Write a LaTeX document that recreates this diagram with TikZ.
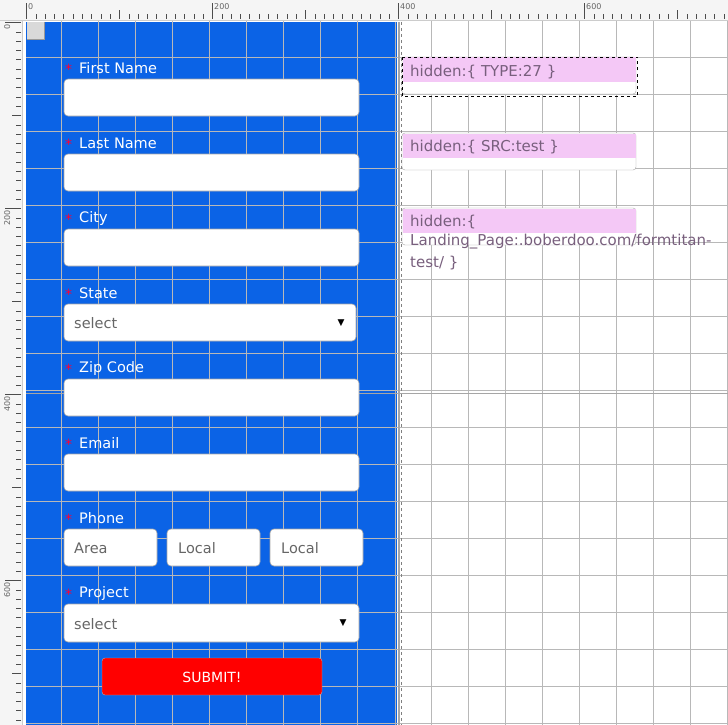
\documentclass[tikz,border=0pt]{standalone}
\usepackage{fontspec}
\setmainfont{DejaVu Sans}
\definecolor{canvasblue}{RGB}{11,99,230}
\definecolor{hidpink}{RGB}{244,200,246}
\definecolor{hidtext}{RGB}{120,95,125}
\begin{document}
\begin{tikzpicture}[x=1pt,y=-1pt,
  grid/.style={draw=black!28,line width=0.8pt},
  inp/.style={draw=black!35,fill=white,rounded corners=4pt,line width=0.6pt},
  lbl/.style={anchor=west,text=white,font=\fontsize{14.5}{16}\selectfont,inner sep=0},
  star/.style={anchor=west,text=red!80!magenta,font=\fontsize{14}{16}\selectfont,inner sep=0},
  ph/.style={anchor=west,text=black!60,font=\fontsize{14.5}{16}\selectfont,inner sep=0},
  hid/.style={anchor=west,text=hidtext,font=\fontsize{15}{17}\selectfont,inner sep=0}]
\useasboundingbox (0,0) rectangle (728,725);
\fill[white] (0,0) rectangle (728,725);
\fill[canvasblue] (26,22) rectangle (397,725);
\foreach \x in {61.5,98.5,135.5,172.5,209.5,246.5,283.5,320.5,357.5,431.5,468.5,505.5,542.5,579.5,616.5,653.5,690.5,727}
  \draw[grid] (\x,20) -- (\x,725);
\foreach \y in {57.3,94.3,131.3,168.3,205.3,242.3,279.3,316.3,353.3,390.3,427.3,464.3,501.3,538.3,575.3,612.3,649.3,686.3,723.3}
  \draw[grid] (26,\y) -- (728,\y);
\draw[black!35,line width=1.5pt] (26,393.5) -- (728,393.5);
\draw[black!30,line width=1pt] (395,22) -- (395,725);
\draw[black!35,line width=1.2pt] (399,22) -- (399,725);
\draw[black!50,dashed,line width=0.5pt] (401.5,22) -- (401.5,725);
\fill[black!15] (27,22) rectangle (44,39);
\draw[black!40] (44,22) -- (44,39) -- (27,39);
% rulers
\fill[black!4] (0,0) rectangle (728,20);
\fill[black!4] (0,20) rectangle (22,725);
\draw[black!20] (0,20.5) -- (728,20.5);
\draw[black!20] (22,20) -- (22,725);
\foreach \i in {0,...,75} {
  \pgfmathsetmacro\xx{26.5+\i*9.3}
  \pgfmathsetmacro\len{ifthenelse(mod(\i,20)==0,16,ifthenelse(mod(\i,10)==0,9,5))}
  \draw[black!70,line width=0.5pt] (\xx,19) -- (\xx,19-\len);
}
\foreach \i/\t in {0/0,20/200,40/400,60/600}
  \node[anchor=north west,inner sep=0,font=\fontsize{8}{9}\selectfont,text=black!60] at (28+\i*9.3,3) {\t};
\foreach \i in {0,...,75} {
  \pgfmathsetmacro\yy{22.5+\i*9.3}
  \pgfmathsetmacro\len{ifthenelse(mod(\i,20)==0,16,ifthenelse(mod(\i,10)==0,9,5))}
  \draw[black!70,line width=0.5pt] (21,\yy) -- (21-\len,\yy);
}
\foreach \i/\t in {0/0,20/200,40/400,60/600}
  \node[anchor=north east,rotate=90,inner sep=0,font=\fontsize{8}{9}\selectfont,text=black!60] at (4,24+\i*9.3) {\t};
% form
\foreach \y/\t in {68/First Name,143/Last Name,218/City,293/State,368/Zip Code,443/Email,518/Phone,593/Project}{
  \node[star] at (65,\y+1) {*};
  \node[lbl] at (79,\y) {\t};
}
\foreach \y in {79,154,229,379,454}
  \draw[inp] (64,\y) rectangle (359,\y+37);
\draw[inp] (64,304) rectangle (356,341);
\node[ph] at (74,323) {select};
\node[font=\fontsize{9}{10}\selectfont,inner sep=0] at (341,323) {▼};
\draw[inp] (64,604) rectangle (359,642);
\node[ph] at (74,624) {select};
\node[font=\fontsize{9}{10}\selectfont,inner sep=0] at (343,623) {▼};
\draw[inp] (64,529) rectangle (157,566);
\node[ph] at (74,548) {Area};
\draw[inp] (167,529) rectangle (260,566);
\node[ph] at (178,548) {Local};
\draw[inp] (270,529) rectangle (363,566);
\node[ph] at (281,548) {Local};
\draw[draw=black!30,fill=red,rounded corners=3pt] (102,658) rectangle (322,695);
\node[text=white,font=\fontsize{14}{16}\selectfont] at (212,677) {SUBMIT!};
% hidden fields
\foreach \y in {57,133,208}{
  \draw[draw=black!35,fill=white,rounded corners=3pt] (402,\y) rectangle (636,\y+37);
  \fill[hidpink] (403,\y+0.5) rectangle (635.5,\y+25);
}
\draw[dashed,line width=0.6pt] (402,57) rectangle (637.5,96);
\node[hid] at (410,72) {hidden:\{ TYPE:27 \}};
\node[hid] at (410,147) {hidden:\{ SRC:test \}};
\node[hid] at (410,222) {hidden:\{};
\node[hid] at (410,242) {Landing\_Page:.boberdoo.com/formtitan-};
\node[hid] at (410,263) {test/ \}};
\end{tikzpicture}
\end{document}
